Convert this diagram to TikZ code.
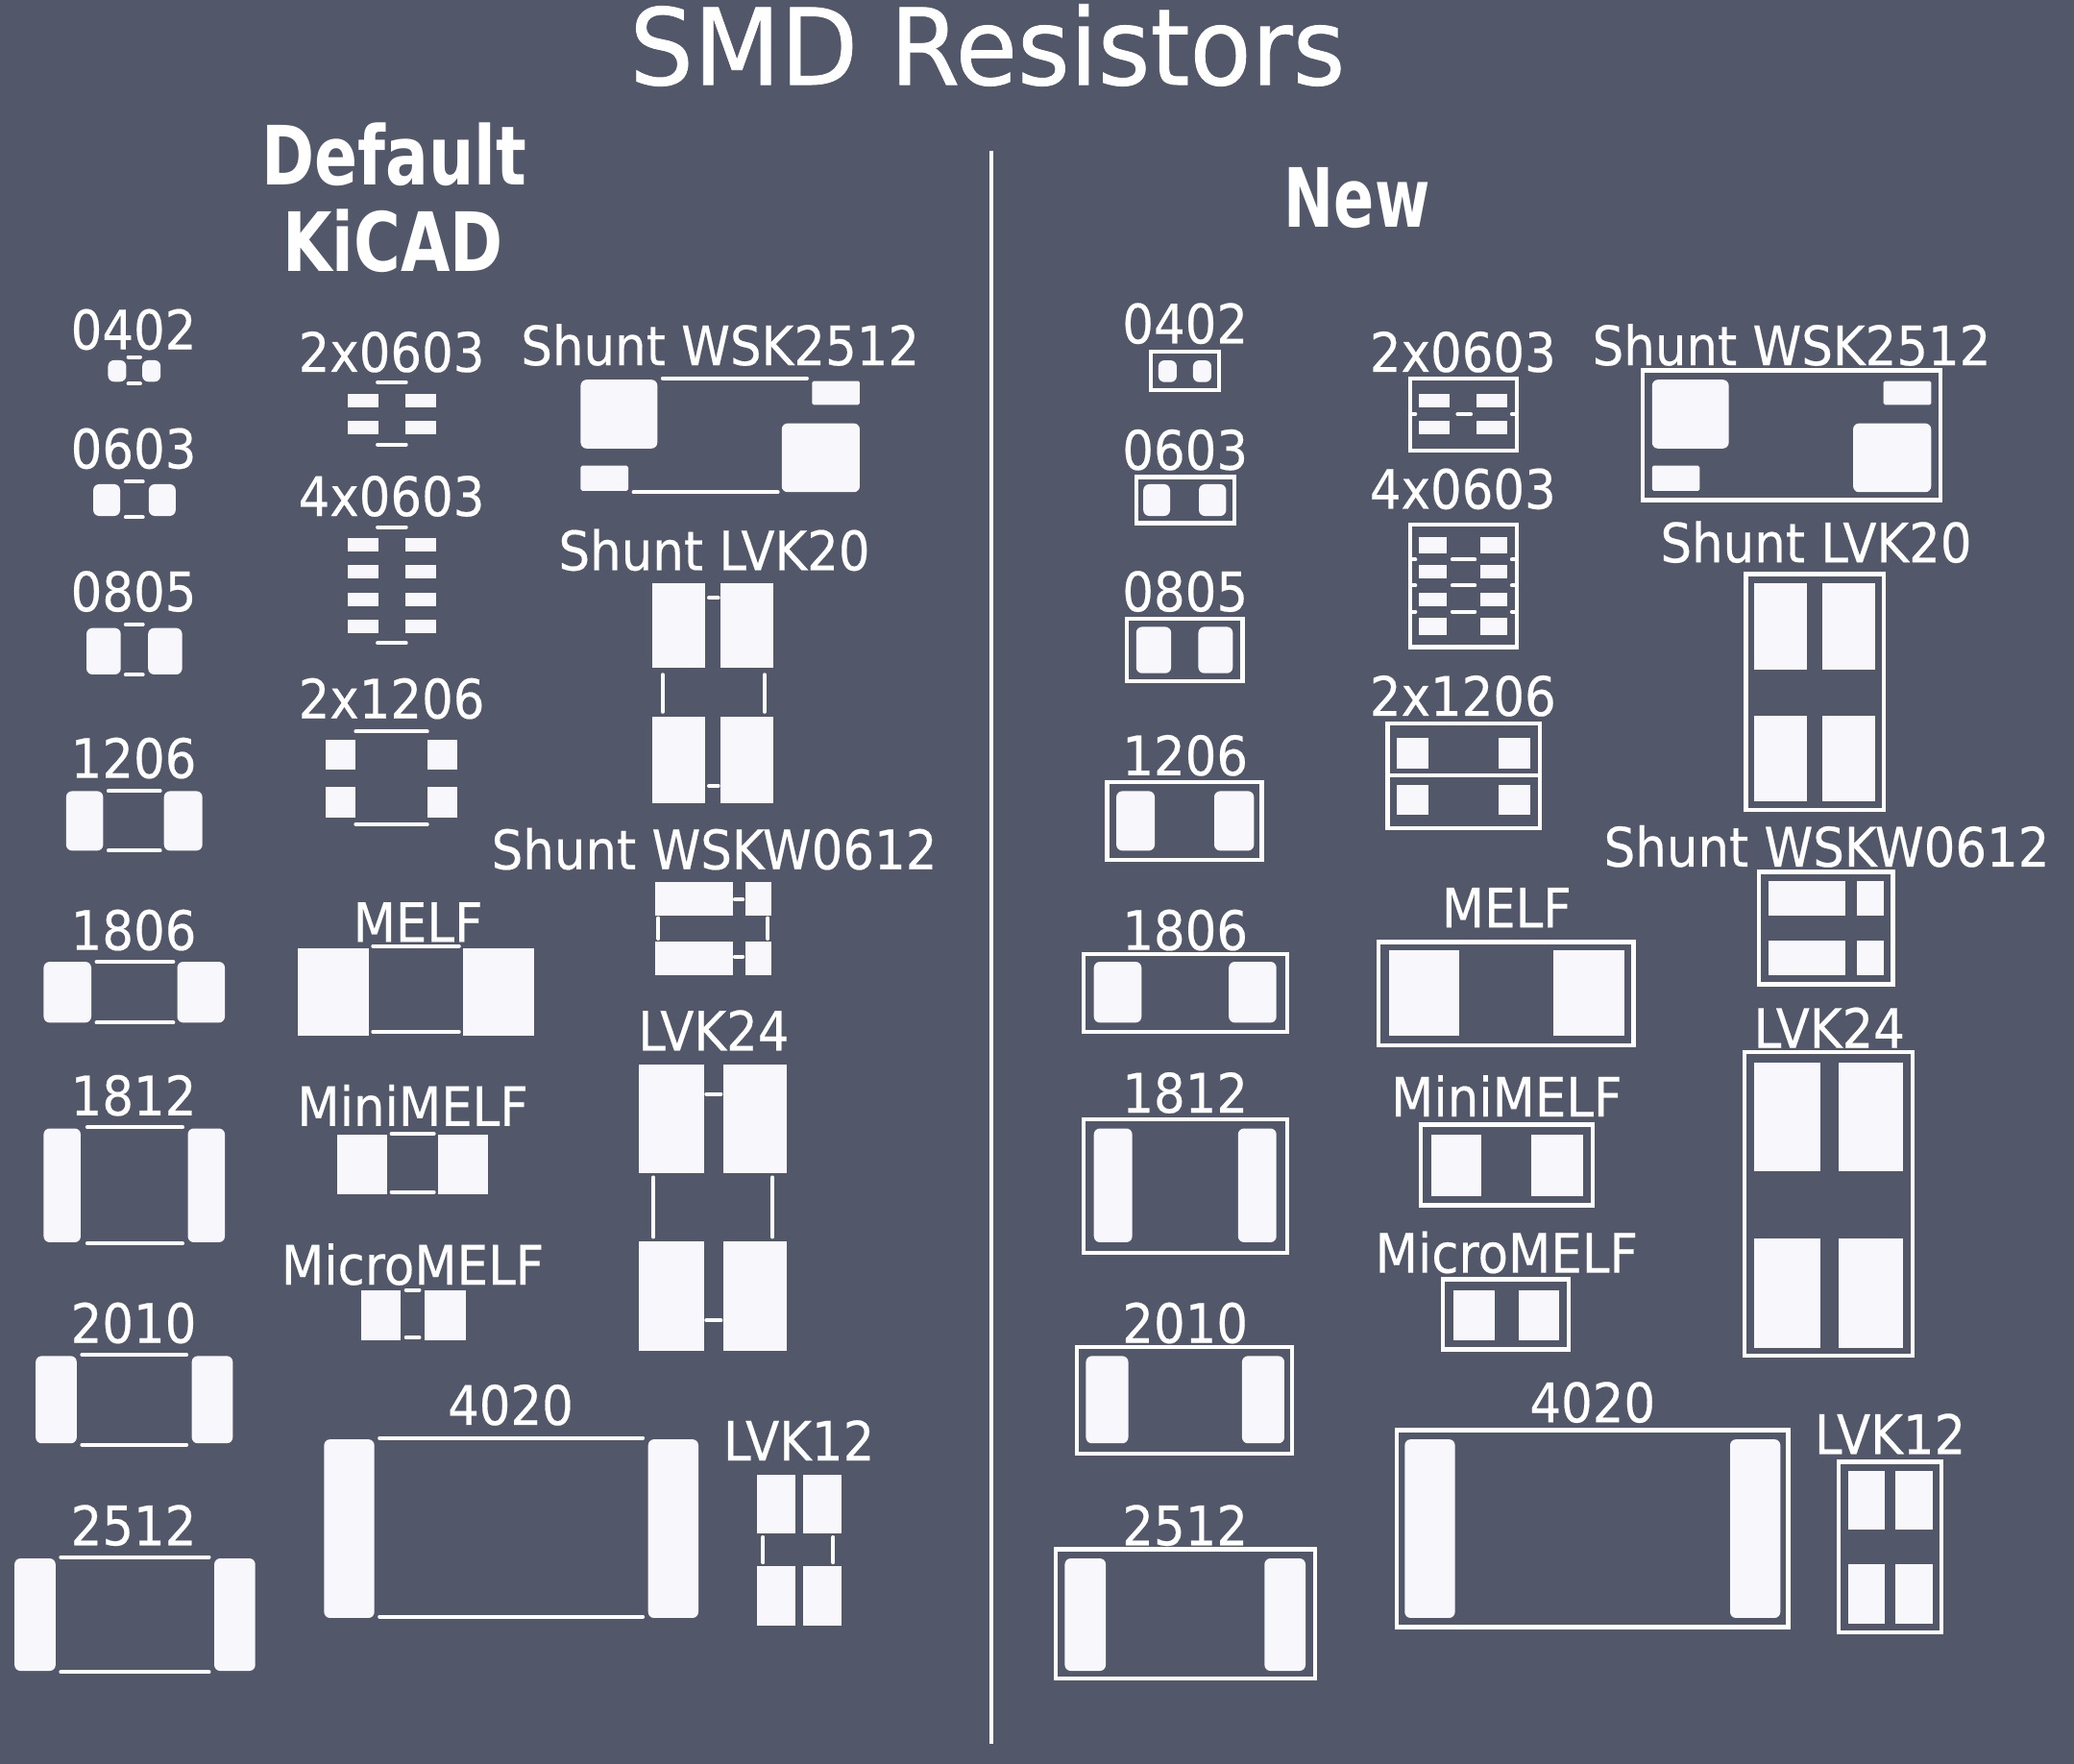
\documentclass[tikz,border=0pt]{standalone}
\usepackage{fontspec}
\newfontfamily\kifont[FakeStretch=0.91,FakeBold=0.35]{DejaVu Sans}
\newfontfamily\kititle[FakeStretch=0.95,FakeBold=0.7]{DejaVu Sans}
\newfontfamily\kibold[FakeStretch=0.78]{DejaVu Sans Bold}
\newfontfamily\kiboldnew[FakeStretch=0.73]{DejaVu Sans Bold}
\definecolor{board}{RGB}{83,87,106}
\definecolor{padwhite}{RGB}{247,247,252}
\tikzset{
  pad/.style={fill=padwhite},
  rpad/.style={fill=padwhite,rounded corners=0.45mm},
  spad/.style={fill=padwhite,rounded corners=0.12mm},
  silk/.style={draw=white,line width=0.29mm,line cap=round},
  outline/.style={draw=white,line width=0.31mm},
  lbl/.style={text=white,anchor=base,inner sep=0pt,font=\kifont\fontsize{11.67}{12}\selectfont},
  titlelbl/.style={text=white,anchor=base,inner sep=0pt,font=\kititle\fontsize{22.8}{24}\selectfont},
  headlbl/.style={text=white,anchor=base,inner sep=0pt,align=center,font=\kibold\fontsize{17.6}{18}\selectfont}
}
\begin{document}
\begin{tikzpicture}[x=0.1mm,y=-0.1mm]
\fill[board] (0,0) rectangle (1568,1333.4);
\useasboundingbox (0,0) rectangle (1568,1333.4);
\node[titlelbl] (title) at (746.5,64) {SMD Resistors};
\node[headlbl] (hdefault) at (298,140) {Default};
\node[headlbl] (hkicad) at (297,205) {KiCAD};
\node[headlbl,font=\kiboldnew\fontsize{17.6}{18}\selectfont] (hnew) at (1026,172) {New};
\draw[draw=white,line width=0.27mm] (749.5,114) -- (749.5,1318);
% default side, first column
\node[lbl] (d0402) at (101,264) {0402};
\fill[rpad] (81.7,272.3) rectangle (95.4,288.5);
\fill[rpad] (107.6,272.3) rectangle (121.4,288.5);
\draw[silk] (97,270) -- (106,270);
\draw[silk] (97,290) -- (106,290);
\node[lbl] (d0603) at (101,354) {0603};
\fill[rpad] (70.5,366) rectangle (90.8,390);
\fill[rpad] (112.5,366) rectangle (132.8,390);
\draw[silk] (95,364) -- (108,364);
\draw[silk] (95,391) -- (108,391);
\node[lbl] (d0805) at (101,462) {0805};
\fill[rpad] (65.4,474.7) rectangle (91.3,509.8);
\fill[rpad] (112,474.7) rectangle (137.7,509.8);
\draw[silk] (95,472) -- (108,472);
\draw[silk] (95,510) -- (108,510);
\node[lbl] (d1206) at (101,588) {1206};
\fill[rpad] (50,598) rectangle (78,643);
\fill[rpad] (124,598) rectangle (153,643);
\draw[silk] (82,598) -- (121,598);
\draw[silk] (82,643) -- (121,643);
\node[lbl] (d1806) at (101,718) {1806};
\fill[rpad] (33,727) rectangle (69,773);
\fill[rpad] (134,727) rectangle (170,773);
\draw[silk] (73,727) -- (131,727);
\draw[silk] (73,773) -- (131,773);
\node[lbl] (d1812) at (101,843) {1812};
\fill[rpad] (33,853) rectangle (61,939);
\fill[rpad] (142,853) rectangle (170,939);
\draw[silk] (66,852) -- (138,852);
\draw[silk] (66,940) -- (138,940);
\node[lbl] (d2010) at (101,1015) {2010};
\fill[rpad] (27,1025) rectangle (58,1091);
\fill[rpad] (145,1025) rectangle (176,1091);
\draw[silk] (62,1024) -- (141,1024);
\draw[silk] (62,1092) -- (141,1092);
\node[lbl] (d2512) at (101,1168) {2512};
\fill[rpad] (11,1178) rectangle (42,1263);
\fill[rpad] (162,1178) rectangle (193,1263);
\draw[silk] (46,1177) -- (158,1177);
\draw[silk] (46,1264) -- (158,1264);
% default side, second column
\node[lbl] (d2x0603) at (296,281) {2x0603};
\fill[pad] (263,297.7) rectangle (286,307.8);
\fill[pad] (306.5,297.7) rectangle (329.4,307.8);
\fill[pad] (263,317.8) rectangle (286,328);
\fill[pad] (306.5,317.8) rectangle (329.4,328);
\draw[silk] (285.5,289) -- (307,289);
\draw[silk] (285.5,336) -- (307,336);
\node[lbl] (d4x0603) at (296,390) {4x0603};
\fill[pad] (263,407) rectangle (286,417);
\fill[pad] (306.5,407) rectangle (329.4,417);
\fill[pad] (263,427) rectangle (286,437.4);
\fill[pad] (306.5,427) rectangle (329.4,437.4);
\fill[pad] (263,447.8) rectangle (286,458);
\fill[pad] (306.5,447.8) rectangle (329.4,458);
\fill[pad] (263,468.4) rectangle (286,478.5);
\fill[pad] (306.5,468.4) rectangle (329.4,478.5);
\draw[silk] (285.5,398.4) -- (307,398.4);
\draw[silk] (285.5,486) -- (307,486);
\node[lbl] (d2x1206) at (296,543) {2x1206};
\fill[pad] (246,559) rectangle (269,582);
\fill[pad] (323,559) rectangle (346,582);
\fill[pad] (246,595) rectangle (269,618);
\fill[pad] (323,595) rectangle (346,618);
\draw[silk] (269,553) -- (323,553);
\draw[silk] (269,623) -- (323,623);
\node[lbl] (dmelf) at (316,712) {MELF};
\fill[pad] (225,717) rectangle (279,783);
\fill[pad] (350,717) rectangle (404,783);
\draw[silk] (282,715) -- (347,715);
\draw[silk] (282,780) -- (347,780);
\node[lbl] (dminimelf) at (312,851) {MiniMELF};
\fill[pad] (255,858) rectangle (293,903);
\fill[pad] (331,858) rectangle (369,903);
\draw[silk] (296,857) -- (328,857);
\draw[silk] (296,901) -- (328,901);
\node[lbl] (dmicromelf) at (312,971) {MicroMELF};
\fill[pad] (273,975) rectangle (303,1013);
\fill[pad] (321,975) rectangle (352,1013);
\draw[silk] (307,975) -- (317,975);
\draw[silk] (307,1011) -- (317,1011);
\node[lbl] (d4020) at (386,1077) {4020};
\fill[rpad] (245,1088) rectangle (283,1223);
\fill[rpad] (490,1088) rectangle (528,1223);
\draw[silk] (287,1087) -- (486,1087);
\draw[silk] (287,1222) -- (486,1222);
\node[lbl] (dlvk12) at (604,1104) {LVK12};
\fill[pad] (572,1115) rectangle (601,1159);
\fill[pad] (607,1115) rectangle (636,1159);
\fill[pad] (572,1184) rectangle (601,1229);
\fill[pad] (607,1184) rectangle (636,1229);
\draw[silk] (577,1162) -- (577,1181);
\draw[silk] (630,1162) -- (630,1181);
% default side, shunts
\node[lbl] (dwsk) at (544.5,276) {Shunt WSK2512};
\fill[rpad] (439,287) rectangle (497,339);
\fill[spad] (614,288) rectangle (650,306);
\fill[rpad] (591,320) rectangle (650,372);
\fill[spad] (439,352) rectangle (475,371);
\draw[silk] (501,286) -- (610,286);
\draw[silk] (479,372) -- (588,372);
\node[lbl] (dlvk20) at (540,431) {Shunt LVK20};
\fill[pad] (493,441) rectangle (533,505);
\fill[pad] (545,441) rectangle (585,505);
\fill[pad] (493,542) rectangle (533,607);
\fill[pad] (545,542) rectangle (585,607);
\draw[silk] (536,452) -- (543,452);
\draw[silk] (536,594) -- (543,594);
\draw[silk] (501,510) -- (501,538);
\draw[silk] (578,510) -- (578,538);
\node[lbl] (dwskw) at (540,657) {Shunt WSKW0612};
\fill[pad] (495.3,666.4) rectangle (553.8,691.9);
\fill[pad] (563.5,666.4) rectangle (583,691.9);
\fill[pad] (495.3,711.7) rectangle (553.8,737.3);
\fill[pad] (563.5,711.7) rectangle (583,737.3);
\draw[silk] (555.5,680) -- (561.5,680);
\draw[silk] (555.5,723) -- (561.5,723);
\draw[silk] (497.7,694) -- (497.7,709.5);
\draw[silk] (580.5,694) -- (580.5,709.5);
\node[lbl] (dlvk24) at (539.5,794) {LVK24};
\fill[pad] (483,805) rectangle (532,887);
\fill[pad] (547,805) rectangle (595,887);
\fill[pad] (483,938) rectangle (532,1021);
\fill[pad] (547,938) rectangle (595,1021);
\draw[silk] (534,827) -- (545,827);
\draw[silk] (534,998) -- (545,998);
\draw[silk] (494,890) -- (494,935);
\draw[silk] (584,890) -- (584,935);
% new side, first column
\node[lbl] (n0402) at (896,259.5) {0402};
\draw[outline] (869.8,266) rectangle (921.8,295);
\fill[rpad] (875.8,272.4) rectangle (889.6,288.8);
\fill[rpad] (902,272.4) rectangle (915.8,288.8);
\node[lbl] (n0603) at (896,355) {0603};
\draw[outline] (859,360.5) rectangle (933,395.5);
\fill[rpad] (864.4,366) rectangle (884.6,390);
\fill[rpad] (906.4,366) rectangle (927,390);
\node[lbl] (n0805) at (896,462) {0805};
\draw[outline] (852,467.8) rectangle (939.4,515);
\fill[rpad] (859,473.8) rectangle (885.4,508.9);
\fill[rpad] (906,473.8) rectangle (932,508.9);
\node[lbl] (n1206) at (896,586) {1206};
\draw[outline] (837,591) rectangle (954,650);
\fill[rpad] (844,598) rectangle (873,643);
\fill[rpad] (918,598) rectangle (948,643);
\node[lbl] (n1806) at (896,718) {1806};
\draw[outline] (819,721) rectangle (973,780);
\fill[rpad] (827,727) rectangle (863,773);
\fill[rpad] (929,727) rectangle (965,773);
\node[lbl] (n1812) at (896,841) {1812};
\draw[outline] (819,846) rectangle (973,947);
\fill[rpad] (827,853) rectangle (856,939);
\fill[rpad] (936,853) rectangle (965,939);
\node[lbl] (n2010) at (896,1015) {2010};
\draw[outline] (814,1018) rectangle (977,1099);
\fill[rpad] (821,1025) rectangle (853,1091);
\fill[rpad] (939,1025) rectangle (971,1091);
\node[lbl] (n2512) at (896,1168) {2512};
\draw[outline] (798,1171) rectangle (994,1269);
\fill[rpad] (805,1178) rectangle (836,1263);
\fill[rpad] (956,1178) rectangle (987,1263);
% new side, second column
\node[lbl] (n2x0603) at (1106,281) {2x0603};
\draw[outline] (1066.4,286) rectangle (1146.9,340.4);
\fill[pad] (1073,297.8) rectangle (1096,308);
\fill[pad] (1116.5,297.8) rectangle (1139.6,308);
\fill[pad] (1073,318) rectangle (1096,328.3);
\fill[pad] (1116.5,318) rectangle (1139.6,328.3);
\draw[silk] (1102,313) -- (1112,313);
\draw[silk] (1067,313) -- (1070,313);
\draw[silk] (1143,313) -- (1146,313);
\node[lbl] (n4x0603) at (1106,384.5) {4x0603};
\draw[outline] (1066.4,396.3) rectangle (1146.9,489.2);
\fill[pad] (1073,405.7) rectangle (1093.7,418.3);
\fill[pad] (1119,405.7) rectangle (1139.6,418.3);
\fill[pad] (1073,427) rectangle (1093.7,437.5);
\fill[pad] (1119,427) rectangle (1139.6,437.5);
\fill[pad] (1073,448) rectangle (1093.7,458);
\fill[pad] (1119,448) rectangle (1139.6,458);
\fill[pad] (1073,467.2) rectangle (1093.7,479.8);
\fill[pad] (1119,467.2) rectangle (1139.6,479.8);
\draw[silk] (1098,423) -- (1115,423);
\draw[silk] (1098,442.5) -- (1115,442.5);
\draw[silk] (1098,462.4) -- (1115,462.4);
\draw[silk] (1067,423) -- (1070,423);
\draw[silk] (1067,442.5) -- (1070,442.5);
\draw[silk] (1067,462.4) -- (1070,462.4);
\draw[silk] (1143,423) -- (1146,423);
\draw[silk] (1143,442.5) -- (1146,442.5);
\draw[silk] (1143,462.4) -- (1146,462.4);
\node[lbl] (n2x1206) at (1106,541) {2x1206};
\draw[outline] (1049,547) rectangle (1164,626);
\draw[outline] (1049,586) -- (1164,586);
\fill[pad] (1056,558) rectangle (1080,581);
\fill[pad] (1133,558) rectangle (1157,581);
\fill[pad] (1056,593) rectangle (1080,616);
\fill[pad] (1133,593) rectangle (1157,616);
\node[lbl] (nmelf) at (1139,701) {MELF};
\draw[outline] (1042,712) rectangle (1235,790);
\fill[pad] (1050,718) rectangle (1103,783);
\fill[pad] (1174,718) rectangle (1228,783);
\node[lbl] (nminimelf) at (1139,844) {MiniMELF};
\draw[outline] (1074,850) rectangle (1204,911);
\fill[pad] (1082,858) rectangle (1120,904);
\fill[pad] (1158,858) rectangle (1197,904);
\node[lbl] (nmicromelf) at (1139,962) {MicroMELF};
\draw[outline] (1091,967) rectangle (1186,1020);
\fill[pad] (1099,975) rectangle (1130,1013);
\fill[pad] (1148,975) rectangle (1179,1013);
\node[lbl] (n4020) at (1204,1075) {4020};
\draw[outline] (1056,1081) rectangle (1352,1230);
\fill[rpad] (1062,1088) rectangle (1100,1223);
\fill[rpad] (1308,1088) rectangle (1346,1223);
\node[lbl] (nlvk12) at (1429,1099) {LVK12};
\draw[outline] (1390,1105) rectangle (1468,1234);
\fill[pad] (1397,1112) rectangle (1425,1156);
\fill[pad] (1433,1112) rectangle (1461,1156);
\fill[pad] (1397,1182) rectangle (1425,1227);
\fill[pad] (1433,1182) rectangle (1461,1227);
% new side, shunts
\node[lbl] (nwsk) at (1354.5,276) {Shunt WSK2512};
\draw[outline] (1242,280) rectangle (1467,378);
\fill[rpad] (1249,287) rectangle (1307,339);
\fill[spad] (1424,288) rectangle (1460,306);
\fill[rpad] (1401,320) rectangle (1460,372);
\fill[spad] (1249,352) rectangle (1285,371);
\node[lbl] (nlvk20) at (1373,425) {Shunt LVK20};
\draw[outline] (1320,434) rectangle (1424,612);
\fill[pad] (1326,441) rectangle (1366,506);
\fill[pad] (1378,441) rectangle (1418,506);
\fill[pad] (1326,541) rectangle (1366,606);
\fill[pad] (1378,541) rectangle (1418,606);
\node[lbl] (nwskw) at (1381,655) {Shunt WSKW0612};
\draw[outline] (1330,659) rectangle (1431,744);
\fill[pad] (1337,666) rectangle (1395,692);
\fill[pad] (1404,666) rectangle (1424,692);
\fill[pad] (1337,711) rectangle (1395,737);
\fill[pad] (1404,711) rectangle (1424,737);
\node[lbl] (nlvk24) at (1383,792) {LVK24};
\draw[outline] (1319,795) rectangle (1446,1025);
\fill[pad] (1326,803) rectangle (1376,885);
\fill[pad] (1390,803) rectangle (1439,885);
\fill[pad] (1326,936) rectangle (1376,1019);
\fill[pad] (1390,936) rectangle (1439,1019);
\end{tikzpicture}
\end{document}
